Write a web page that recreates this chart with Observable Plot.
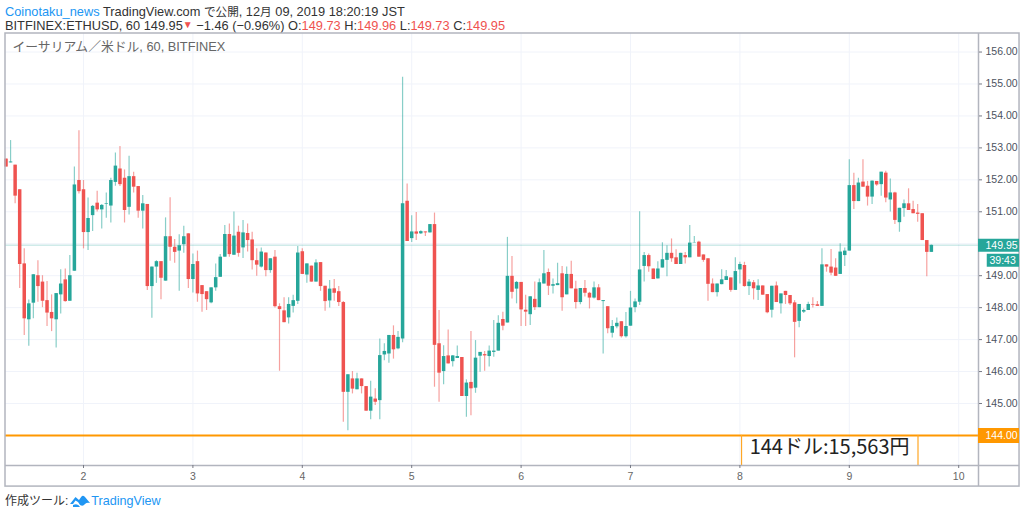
<!DOCTYPE html>
<html lang="ja">
<head>
<meta charset="utf-8">
<script src="https://cdn.jsdelivr.net/npm/d3@7"></script>
<script src="https://cdn.jsdelivr.net/npm/@observablehq/plot@0.6"></script>
<style>
  html, body { margin: 0; padding: 0; background: #fff; width: 1024px; height: 514px; overflow: hidden; }
  body { font-family: "Liberation Sans", "Noto Sans CJK JP", sans-serif; color: #333; }
  #head { height: 33px; padding-left: 5px; font-size: 12.8px; line-height: 13.5px; box-sizing: border-box; padding-top: 4.5px; white-space: nowrap; }
  #head .blue, #foot .blue { color: #2196f3; }
  #head .red { color: #ef5350; }
  #head .cjk { font-size: 11.6px; }
  #chart svg { display: block; }
  #foot { height: 28px; padding-left: 5px; padding-top: 3px; box-sizing: border-box; font-size: 12.6px; line-height: 25px; white-space: nowrap; display: flex; align-items: center; }
  #foot .cjk { font-size: 12px; }
  #foot svg { margin: 0 1px 0 2px; }
</style>
</head>
<body>
<div id="head">
  <div><span class="blue">Coinotaku_news</span> TradingView.com <span class="cjk">で公開</span>, 12<span class="cjk">月</span> 09, 2019 18:20:19 JST</div>
  <div>BITFINEX:ETHUSD, 60 149.95<span class="red" style="font-size:10px;vertical-align:2px">▼</span> −1.46 (−0.96%) O:<span class="red">149.73</span> H:<span class="red">149.96</span> L:<span class="red">149.73</span> C:<span class="red">149.95</span></div>
</div>
<div id="chart"></div>
<div id="foot"><span class="cjk">作成ツール:</span><svg width="20" height="13" viewBox="0 0 20 13"><path fill="#2196f3" d="M0 9 L5.5 2 L9 5 L11.5 1.5 Q13 0 15 2 L20 8 Q17 7 15 9 Q13 12 10 10 L8 7 L5.5 5.5 L3 9 Z M3 10 Q8 8 10 12 L3 12 Z"/></svg><span class="blue">TradingView</span></div>
<script>
const opens = [152.65,152.53,152.46,151.69,149.37,147.62,148.14,149.0,148.8,148.22,
147.85,147.62,148.4,148.87,148.2,149.14,151.98,151.69,150.35,150.88,
151.27,151.06,151.24,151.18,151.92,152.34,152.05,151.14,152.1,151.79,
151.02,151.23,148.66,149.27,149.44,148.83,150.22,149.89,149.77,149.97,
150.31,148.88,149.44,148.69,148.5,148.15,148.62,148.95,149.58,150.29,
149.64,150.36,149.87,150.32,150.12,149.47,149.27,149.71,149.16,149.58,
148.03,147.9,147.68,148.04,148.2,149.75,149.02,149.3,148.8,149.41,
148.67,148.21,148.59,148.5,148.16,145.35,145.77,145.43,145.77,145.53,
144.76,145.14,145.09,146.52,146.55,147.13,146.71,147.02,151.33,150.16,
150.37,150.31,150.37,150.34,150.6,146.87,146.0,146.49,146.31,146.41,
146.44,145.22,145.66,145.48,146.48,146.53,146.47,146.6,146.64,147.63,
147.52,148.98,148.58,148.79,147.92,147.78,148.26,148.0,148.74,149.1,
148.67,148.69,149.06,148.4,149.04,148.58,148.16,148.6,148.45,148.3,
148.62,148.19,148.03,147.2,147.4,147.56,147.09,147.42,148.0,148.17,
149.29,149.63,149.21,148.9,149.24,149.48,149.7,149.56,149.35,149.63,
149.56,150.02,150.05,149.65,149.53,148.74,148.47,148.72,148.85,148.93,
148.54,149.18,149.32,148.66,148.78,148.54,148.68,148.41,147.92,148.68,
148.12,148.51,148.38,148.15,147.57,147.86,147.91,148.1,148.09,148.04,
149.34,149.27,149.24,149.04,149.63,149.77,151.82,151.32,151.93,151.8,
151.46,151.95,151.85,152.21,151.37,151.59,150.66,151.1,151.25,151.07,
150.96,150.94,150.1,149.73];
const closes = [152.4,152.56,151.49,149.35,147.65,148.12,149.03,148.66,148.2,147.83,
147.65,148.44,148.74,148.19,149.0,151.84,151.63,150.35,150.79,151.17,
151.06,151.2,151.26,151.98,152.43,151.85,151.04,152.1,151.77,151.02,
151.25,148.66,149.27,149.44,148.92,150.22,149.89,149.73,149.94,150.22,
148.88,149.35,148.43,148.41,148.25,148.62,148.94,149.58,150.29,149.66,
150.24,149.7,150.34,150.1,149.47,149.33,149.74,149.16,149.53,148.03,
147.94,147.53,148.1,148.22,149.71,149.04,149.37,148.8,149.4,148.66,
148.19,148.58,148.45,148.16,145.35,145.9,145.45,145.77,145.53,144.76,
145.2,145.04,146.5,146.63,147.13,146.68,147.07,151.25,150.07,150.37,
150.3,150.38,150.34,150.6,146.82,145.95,146.47,146.24,146.49,146.47,
145.22,145.64,145.46,146.42,146.6,146.49,146.64,146.64,147.51,147.42,
148.98,148.48,148.79,147.93,147.86,148.34,148.0,148.78,149.06,148.67,
148.72,148.75,148.31,149.04,148.59,148.16,148.6,148.45,148.3,148.62,
148.22,148.22,147.34,147.41,147.51,147.09,147.41,147.99,148.18,149.18,
149.63,149.28,148.88,149.21,149.5,149.7,149.53,149.35,149.7,149.56,
150.02,150.03,149.58,149.48,148.73,148.47,148.74,148.87,148.97,148.54,
149.13,149.35,148.66,148.8,148.59,148.68,148.39,147.84,148.67,148.16,
148.43,148.38,148.12,147.54,148.1,147.91,148.1,148.08,148.04,149.34,
149.27,149.08,148.98,149.74,149.77,151.82,151.32,151.9,151.77,151.46,
151.96,151.84,152.24,151.43,151.59,150.73,151.11,151.25,151.04,150.94,
150.92,150.1,149.73,149.95];
const highs = [152.65,153.23,152.46,151.69,149.84,148.24,149.03,149.47,149.0,148.82,
148.4,148.44,149.19,149.21,149.63,152.4,153.54,151.98,151.43,151.2,
151.64,151.23,151.59,152.05,152.84,153.04,152.31,152.74,152.24,151.79,
151.51,151.23,149.27,149.47,149.44,150.81,151.44,150.13,150.28,150.55,
150.31,149.68,149.77,148.69,148.5,148.62,149.37,149.66,150.57,150.62,
150.99,150.55,150.73,150.62,150.36,149.84,149.87,149.71,149.53,149.79,
148.12,148.31,148.31,148.39,149.91,149.84,149.37,149.3,149.5,149.41,
148.67,148.85,148.88,148.66,148.19,145.9,146.0,145.95,145.77,145.53,
145.7,145.46,147.02,146.87,147.13,147.43,147.25,155.21,151.87,150.88,
150.98,150.41,150.37,150.6,150.96,147.91,146.81,147.3,146.5,146.8,
146.44,145.74,147.25,146.97,146.6,146.63,146.8,147.6,147.75,147.86,
150.2,149.6,148.82,148.79,148.39,148.34,148.8,148.9,149.79,149.21,
148.9,149.39,149.29,149.27,149.45,148.83,148.6,148.85,148.48,148.8,
148.72,148.22,148.03,147.6,147.68,147.56,147.85,148.51,148.27,151.0,
149.73,149.68,149.21,149.44,150.03,149.94,150.15,149.81,149.7,149.73,
150.57,150.23,150.08,149.65,149.53,148.9,148.74,149.19,149.16,148.93,
149.56,149.42,149.42,148.88,148.85,148.87,148.68,148.41,148.67,148.8,
148.43,148.51,148.38,148.22,148.1,147.96,148.17,148.31,148.19,149.84,
149.34,149.82,149.53,150.0,149.87,152.63,152.21,152.05,152.63,151.95,
151.96,151.95,152.24,152.27,152.03,151.61,151.11,151.37,151.72,151.33,
151.23,150.94,150.1,149.96];
const lows = [152.4,152.53,151.25,148.6,147.13,146.79,147.65,148.17,148.0,147.41,
147.25,146.74,147.8,148.17,148.2,149.14,151.56,149.84,149.79,150.38,
150.99,150.46,150.8,150.65,151.8,151.79,150.65,150.9,151.59,150.8,
150.46,148.54,147.67,148.76,148.25,148.83,149.45,149.39,148.51,149.7,
148.6,148.46,148.17,147.86,147.91,148.12,148.51,148.95,149.58,149.58,
149.64,149.58,149.54,149.74,149.18,148.98,149.24,148.97,149.08,147.99,
146.01,147.53,147.49,147.83,148.1,149.04,148.76,148.8,148.8,148.51,
147.89,147.99,148.2,148.04,144.41,144.15,145.3,145.43,145.3,144.76,
144.49,144.94,144.49,146.34,146.26,146.39,146.68,146.9,150.07,150.04,
150.1,150.29,150.23,150.34,145.51,145.04,145.59,146.24,146.14,146.41,
145.22,144.57,144.62,145.32,145.98,146.01,146.14,146.45,146.64,147.28,
147.52,148.27,148.12,147.41,147.41,147.44,147.91,148.0,148.74,148.38,
148.43,148.69,147.89,148.4,148.59,147.96,148.09,148.33,147.96,148.27,
148.22,146.55,147.18,147.05,147.34,147.05,147.05,147.42,147.84,148.07,
148.8,149.11,148.88,148.9,149.24,148.97,149.42,149.35,149.35,149.37,
149.56,150.02,149.58,149.42,148.2,148.47,148.33,148.72,148.85,148.48,
148.54,148.74,148.64,148.38,148.24,148.22,148.39,147.81,147.68,148.16,
147.8,148.1,148.07,146.43,147.37,147.82,147.91,147.99,148.04,148.04,
149.11,149.0,148.98,149.04,149.29,149.77,151.07,151.32,151.77,151.18,
151.23,151.8,151.49,151.28,150.99,150.6,150.36,150.83,151.04,150.94,
150.67,150.1,148.97,149.73];
const dayTicks = [2,3,4,5,6,7,8,9,10];
const priceTicks = [145,146,147,148,149,150,151,152,153,154,155,156];
const lastPrice = 149.95;
const levelPrice = 144;
const note = "144ドル:15,563円";
const countdown = "39:43";
const seriesLabel = "イーサリアム／米ドル, 60, BITFINEX";

const candles = opens.map((o, i) => ({
  day: 2 + (i - 17) / 24, open: o, close: closes[i], high: highs[i], low: lows[i],
  color: closes[i] >= o ? "#26a69a" : "#ef5350"
}));

const xMin = 1.287, xMax = 10.181, xAxisEnd = 10.556;
const yMin = 143.06, yMax = 156.58, yAxisEnd = 142.4;
const border = "#b2b5be";

const plot = Plot.plot({
  width: 1024, height: 453,
  marginLeft: 5, marginRight: 46, marginTop: 0, marginBottom: 21,
  style: {fontFamily: '"Liberation Sans", "Noto Sans CJK JP", sans-serif', fontSize: "10.5px", background: "#fff", overflow: "visible"},
  x: {domain: [xMin, xMax], label: null},
  y: {domain: [yMin, yMax], label: null},
  marks: [
    Plot.ruleY(priceTicks, {stroke: "#f0f3fa", strokeWidth: 1}),
    Plot.ruleX(dayTicks, {stroke: "#f0f3fa", strokeWidth: 1}),
    Plot.ruleY([lastPrice], {stroke: "#26a69a", strokeOpacity: 0.22, strokeWidth: 1.5}),
    Plot.ruleX(candles, {x: "day", y1: "low", y2: "high", stroke: "color", strokeWidth: 1.2, strokeOpacity: 0.55}),
    Plot.ruleX(candles, {x: "day", y1: "open", y2: "close", stroke: "color", strokeWidth: 3.5}),
    Plot.ruleY([levelPrice], {stroke: "#ff9800", strokeWidth: 2}),
    Plot.ruleX([8.015, 9.628], {y1: levelPrice, y2: yMin, stroke: "#ffa726", strokeWidth: 1.2}),
    Plot.text([note], {x: 8.82, y: 143.62, text: d => d, fontSize: 20, fill: "#222", fontFamily: '"Noto Sans CJK JP", sans-serif'}),
    Plot.text([seriesLabel], {frameAnchor: "top-left", dx: 7, dy: 8, text: d => d, fontSize: 12.8, fill: "#666"}),
    Plot.rect([0], {x1: xMin, x2: xAxisEnd, y1: yAxisEnd, y2: yMax, stroke: border, strokeWidth: 1.5, fill: "none"}),
    Plot.ruleX([xMax], {y1: yAxisEnd, y2: yMax, stroke: border, strokeWidth: 1.5}),
    Plot.ruleY([yMin], {x1: xMin, x2: xAxisEnd, stroke: border, strokeWidth: 1.5}),
    Plot.axisX(dayTicks, {tickSize: 3, tickPadding: 4, tickFormat: d => d, stroke: "#787b86", fill: "#666"}),
    Plot.axisY(priceTicks, {anchor: "right", tickSize: 3, tickPadding: 4, tickFormat: d => d.toFixed(2), fill: "#4c525e", stroke: "#787b86"}),
    Plot.ruleY([levelPrice], {x1: xMax, x2: xAxisEnd, stroke: "#ff9800", strokeWidth: 15}),
    Plot.text([levelPrice], {x: xMax, y: d => d, text: d => d.toFixed(2), dx: 7, textAnchor: "start", fill: "#fff"}),
    Plot.ruleY([lastPrice], {x1: xMax, x2: xAxisEnd, stroke: "#26a69a", strokeWidth: 13}),
    Plot.text([lastPrice], {x: xMax, y: d => d, text: d => d.toFixed(2), dx: 7, textAnchor: "start", fill: "#fff"}),
    Plot.ruleY([lastPrice - 0.465], {x1: xMax + 0.08, x2: xAxisEnd, stroke: "#26a69a", strokeWidth: 13}),
    Plot.text([lastPrice - 0.465], {x: xMax, y: d => d, text: () => countdown, dx: 11, textAnchor: "start", fill: "#fff"})
  ]
});
document.getElementById("chart").appendChild(plot);
</script>
</body>
</html>
